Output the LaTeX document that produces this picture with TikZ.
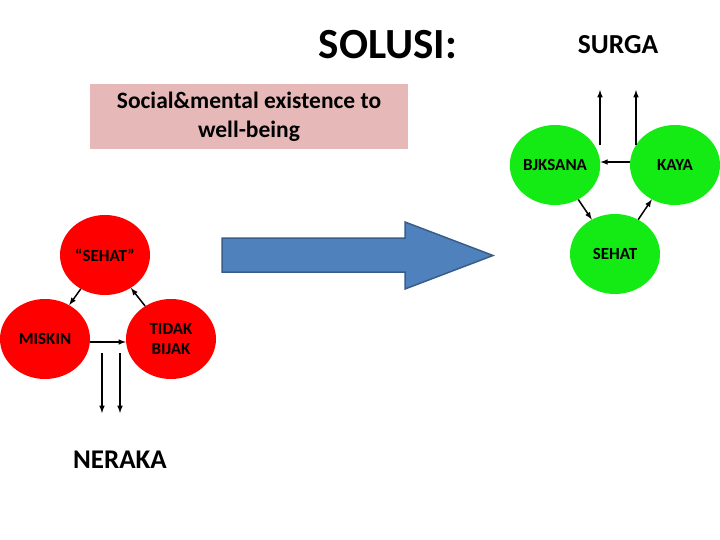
\documentclass[tikz,border=0pt]{standalone}
\usepackage{fontspec}
\setmainfont{Carlito}
\usepackage{tikz}
\usetikzlibrary{shapes.geometric, arrows}
\definecolor{boxpink}{RGB}{230,185,184}
\definecolor{badred}{RGB}{255,0,0}
\definecolor{goodgreen}{RGB}{20,235,20}
\definecolor{arrowblue}{RGB}{79,129,189}
\definecolor{arrowedge}{RGB}{56,93,138}
\tikzstyle{bad} = [ellipse, minimum width=90, minimum height=80, inner sep=0pt, align=center, fill=badred, font=\bfseries\fontsize{17}{20}\selectfont]
\tikzstyle{good} = [ellipse, minimum width=90, minimum height=80, inner sep=0pt, align=center, fill=goodgreen, font=\bfseries\fontsize{17}{20}\selectfont]
\tikzstyle{arrow} = [line width=1.5pt,->, > = latex]
\tikzstyle{bigarrow} = [fill=arrowblue, draw=arrowedge, line width=1.5pt, line join=miter]

\begin{document}
\begin{tikzpicture}[x=1pt, y=-1pt]
  \useasboundingbox (0,0) rectangle (720,540);

  \node (title) [font=\bfseries\fontsize{43}{45}\selectfont] at (388,45) {SOLUSI:};
  \node (surga) [font=\bfseries\fontsize{27.5}{29}\selectfont] at (618,45) {SURGA};
  \node (goal) [rectangle, fill=boxpink, minimum width=318, minimum height=65, align=center, font=\bfseries\fontsize{23.5}{29}\selectfont] at (249,116.5) {Social\&mental existence to\\well-being};

  % lingkaran merah
  \node (sehat1) [bad] at (105,255) {“SEHAT”};
  \node (miskin) [bad] at (45,339) {MISKIN};
  \node (tidak) [bad] at (171,339) {TIDAK\\BIJAK};
  \node (neraka) [font=\bfseries\fontsize{27}{29}\selectfont] at (120,460) {NERAKA};
  \coordinate (d1) at (102,413);
  \coordinate (d2) at (120,413);

  % lingkaran hijau
  \node (bijak) [good] at (555,165) {BJKSANA};
  \node (kaya) [good] at (675,165) {KAYA};
  \node (sehat2) [good] at (615,254) {SEHAT};
  \coordinate (u1) at (600,90);
  \coordinate (u2) at (636,90);

  \draw[bigarrow] (222,238) -- (405,238) -- (405,222) -- (493,255.5) -- (405,289) -- (405,272) -- (222,272) -- cycle;

  \draw[arrow] (sehat1) -- (miskin);
  \draw[arrow] (miskin.east |- 0,342) -- (tidak.west |- 0,342);
  \draw[arrow] (tidak) -- (sehat1);
  \draw[arrow] (102,353) -- (d1);
  \draw[arrow] (120,353) -- (d2);

  \draw[arrow] (kaya.west |- 0,162) -- (bijak.east |- 0,162);
  \draw[arrow] (bijak) -- (sehat2);
  \draw[arrow] (sehat2) -- (kaya);
  \draw[arrow] (600,145) -- (u1);
  \draw[arrow] (636,145) -- (u2);
\end{tikzpicture}
\end{document}
